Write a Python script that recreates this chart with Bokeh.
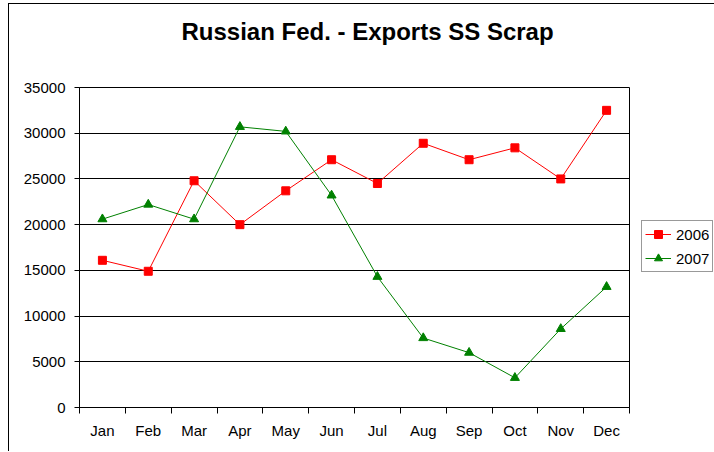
from bokeh.plotting import figure
from bokeh.models import Range1d, FixedTicker, Legend, LegendItem, ColumnDataSource, Title
from bokeh.embed import file_html
from bokeh.resources import INLINE

months = ["Jan", "Feb", "Mar", "Apr", "May", "Jun", "Jul", "Aug", "Sep", "Oct", "Nov", "Dec"]
exports_2006 = [16100, 14900, 24800, 20000, 23700, 27100, 24500, 28900, 27100, 28400, 25000, 32500]
exports_2007 = [20600, 22200, 20600, 30700, 30200, 23200, 14300, 7600, 6000, 3250, 8600, 13200]
y_ticks = [0, 5000, 10000, 15000, 20000, 25000, 30000, 35000]
title_text = "Russian Fed. - Exports SS Scrap"

FONT = "Liberation Sans"

xpos = [i + 0.5 for i in range(len(months))]
src = ColumnDataSource(dict(x=xpos, y06=exports_2006, y07=exports_2007))

p = figure(
    output_backend="svg", toolbar_location=None,
    frame_width=550, frame_height=320,
    min_border_left=70, min_border_right=84, min_border_top=83, min_border_bottom=44,
    x_range=Range1d(0, len(months)), y_range=Range1d(0, 35000),
    title=None,
)
p.styles = {"border-left": "1px solid black", "border-top": "1px solid black",
            "margin-left": "8px", "margin-top": "3px"}

# spacer between frame and title (pushes title upward)
spacer = Title(text=" ", text_font_size="1px", standoff=40)
p.add_layout(spacer, "above")
main_title = Title(text=title_text, text_font=FONT, text_font_size="24px",
                   text_font_style="bold", text_color="black",
                   align="left", offset=102, standoff=0)
p.add_layout(main_title, "above")

p.background_fill_color = "white"
p.border_fill_color = "white"
p.outline_line_color = "black"
p.outline_line_width = 1
p.outline_line_alpha = 1

# grid
p.xgrid.grid_line_color = None
p.ygrid.grid_line_color = "black"
p.ygrid.grid_line_width = 1
p.ygrid.ticker = FixedTicker(ticks=y_ticks)

# x axis
xt = FixedTicker(ticks=xpos, minor_ticks=list(range(len(months) + 1)))
p.xaxis.ticker = xt
p.xaxis.major_label_overrides = {xv: m for xv, m in zip(xpos, months)}
p.xaxis.major_tick_out = 0
p.xaxis.major_tick_in = 0
p.xaxis.minor_tick_out = 6
p.xaxis.minor_tick_in = 0
p.xaxis.minor_tick_line_color = "black"
p.xaxis.major_label_standoff = 8

# y axis
p.yaxis.ticker = FixedTicker(ticks=y_ticks)
p.yaxis.major_tick_out = 5
p.yaxis.major_tick_in = 0
p.yaxis.minor_tick_line_color = None
p.yaxis.major_label_standoff = 9

for ax in (p.xaxis, p.yaxis):
    ax.axis_line_color = "black"
    ax.major_tick_line_color = "black"
    ax.major_label_text_font = FONT
    ax.major_label_text_font_size = "15px"
    ax.major_label_text_color = "black"

l06 = p.line("x", "y06", source=src, line_color="#FF0000", line_width=1)
m06 = p.scatter("x", "y06", source=src, marker="square", size=8, fill_color="#FF0000", line_color="#FF0000")
l07 = p.line("x", "y07", source=src, line_color="#008000", line_width=1)
m07 = p.scatter("x", "y07", source=src, marker="triangle", size=9, fill_color="#008000", line_color="#008000")

legend = Legend(items=[LegendItem(label="2006", renderers=[l06, m06]),
                       LegendItem(label="2007", renderers=[l07, m07])],
                location=(12, 135))
legend.margin = 0
legend.padding = 3
legend.spacing = 4
legend.glyph_width = 26
legend.glyph_height = 20
legend.label_standoff = 5
legend.label_text_font = FONT
legend.label_text_font_size = "15px"
legend.label_text_color = "black"
legend.border_line_color = "#333333"
legend.border_line_width = 1
legend.background_fill_color = "white"
p.add_layout(legend, "right")

open("out.html", "w").write(file_html(p, INLINE))
